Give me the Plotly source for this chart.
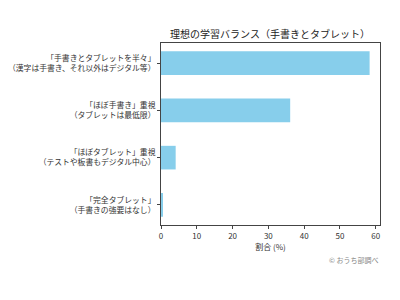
import plotly.graph_objects as go

categories = [
    "「完全タブレット」<br>（手書きの強要はなし）",
    "「ほぼタブレット」重視<br>（テストや板書もデジタル中心）",
    "「ほぼ手書き」重視<br>（タブレットは最低限）",
    "「手書きとタブレットを半々」<br>（漢字は手書き、それ以外はデジタル等）",
]
values = [0.4, 4.1, 36.1, 58.3]
x_ticks = [0, 10, 20, 30, 40, 50, 60]

fig = go.Figure()
fig.add_trace(go.Bar(
    x=values, y=list(range(len(categories))), orientation="h",
    marker=dict(color="#87CEEB", line=dict(width=0)), width=0.5,
))
font = "Noto Sans CJK JP"
fig.update_layout(
    width=400, height=300,
    margin=dict(l=161, r=20, t=43, b=75),
    paper_bgcolor="white", plot_bgcolor="white",
    font=dict(family=font, size=8, color="#333"),
    title=dict(text="理想の学習バランス（手書きとタブレット）", x=0.675, xanchor="center",
               y=0.885, yanchor="middle", font=dict(size=10, color="#222")),
    showlegend=False,
    annotations=[dict(text="© おうち部調べ", xref="paper", yref="paper", x=1.0, y=-0.19,
                      xanchor="right", yanchor="middle", showarrow=False,
                      font=dict(size=7, color="#888"))],
)
fig.update_xaxes(range=[0, 61.2], tickvals=x_ticks, ticks="outside", ticklen=3,
                 showgrid=False, zeroline=False, showline=True, linecolor="#444",
                 linewidth=1, mirror=True, automargin=False,
                 title=dict(text="割合 (%)", font=dict(size=8), standoff=4))
fig.update_yaxes(range=[-0.425, 3.425], tickvals=list(range(len(categories))), ticktext=categories,
                 ticks="outside", ticklen=3, showgrid=False, zeroline=False, showline=True,
                 linecolor="#444", linewidth=1, mirror=True, automargin=False,
                 tickfont=dict(size=7.8))
fig.write_html("out.html")
